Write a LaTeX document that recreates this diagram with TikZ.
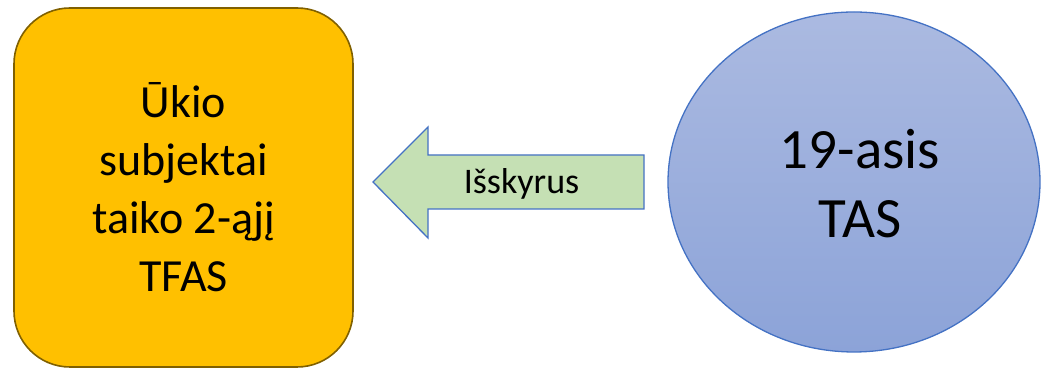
\documentclass[tikz,border=0pt]{standalone}
\usepackage{fontspec}
\setmainfont{Carlito}
\begin{document}
\begin{tikzpicture}[x=1pt,y=1pt,
  box/.style={draw=boxedge, fill=boxfill, line width=1.6pt, rounded corners=56pt, minimum width=339pt, minimum height=359pt, inner sep=0pt},
  txt/.style={align=center, inner sep=0pt, text=black},
]
\definecolor{boxfill}{HTML}{FFC000}
\definecolor{boxedge}{HTML}{806000}
\definecolor{arrfill}{HTML}{C5E0B4}
\definecolor{blueedge}{HTML}{4472C4}
\definecolor{ctop}{HTML}{ABBAE1}
\definecolor{cbot}{HTML}{8CA3D8}
\useasboundingbox (0,0) rectangle (1041,371);
% left rounded box
\node (ukio) [box] at (183.5,183.5) {};
\node (ukiotxt) [txt, anchor=south, font=\fontsize{46}{58}\selectfont] at (183.5,79) {Ūkio\\subjektai\\taiko 2-ąjį\\TFAS};
% arrow
\coordinate (tip) at (373,189);
\draw[fill=arrfill, draw=blueedge, line width=1.3pt, line join=miter]
  (tip) -- (428,244) -- (428,216) -- (644,216) -- (644,162) -- (428,162) -- (428,133) -- cycle;
\node (arrtxt) [txt, anchor=base, font=\fontsize{36}{42}\selectfont] at (521.5,177) {Išskyrus};
% ellipse
\coordinate (ec) at (854,189);
\shade[top color=ctop, bottom color=cbot] (ec) ellipse [x radius=186, y radius=170];
\draw[draw=blueedge, line width=1.3pt] (ec) ellipse [x radius=186, y radius=170];
\node (tas) [txt, anchor=south, font=\fontsize{57}{69}\selectfont] at (860,133) {19-asis\\TAS};
\end{tikzpicture}
\end{document}
